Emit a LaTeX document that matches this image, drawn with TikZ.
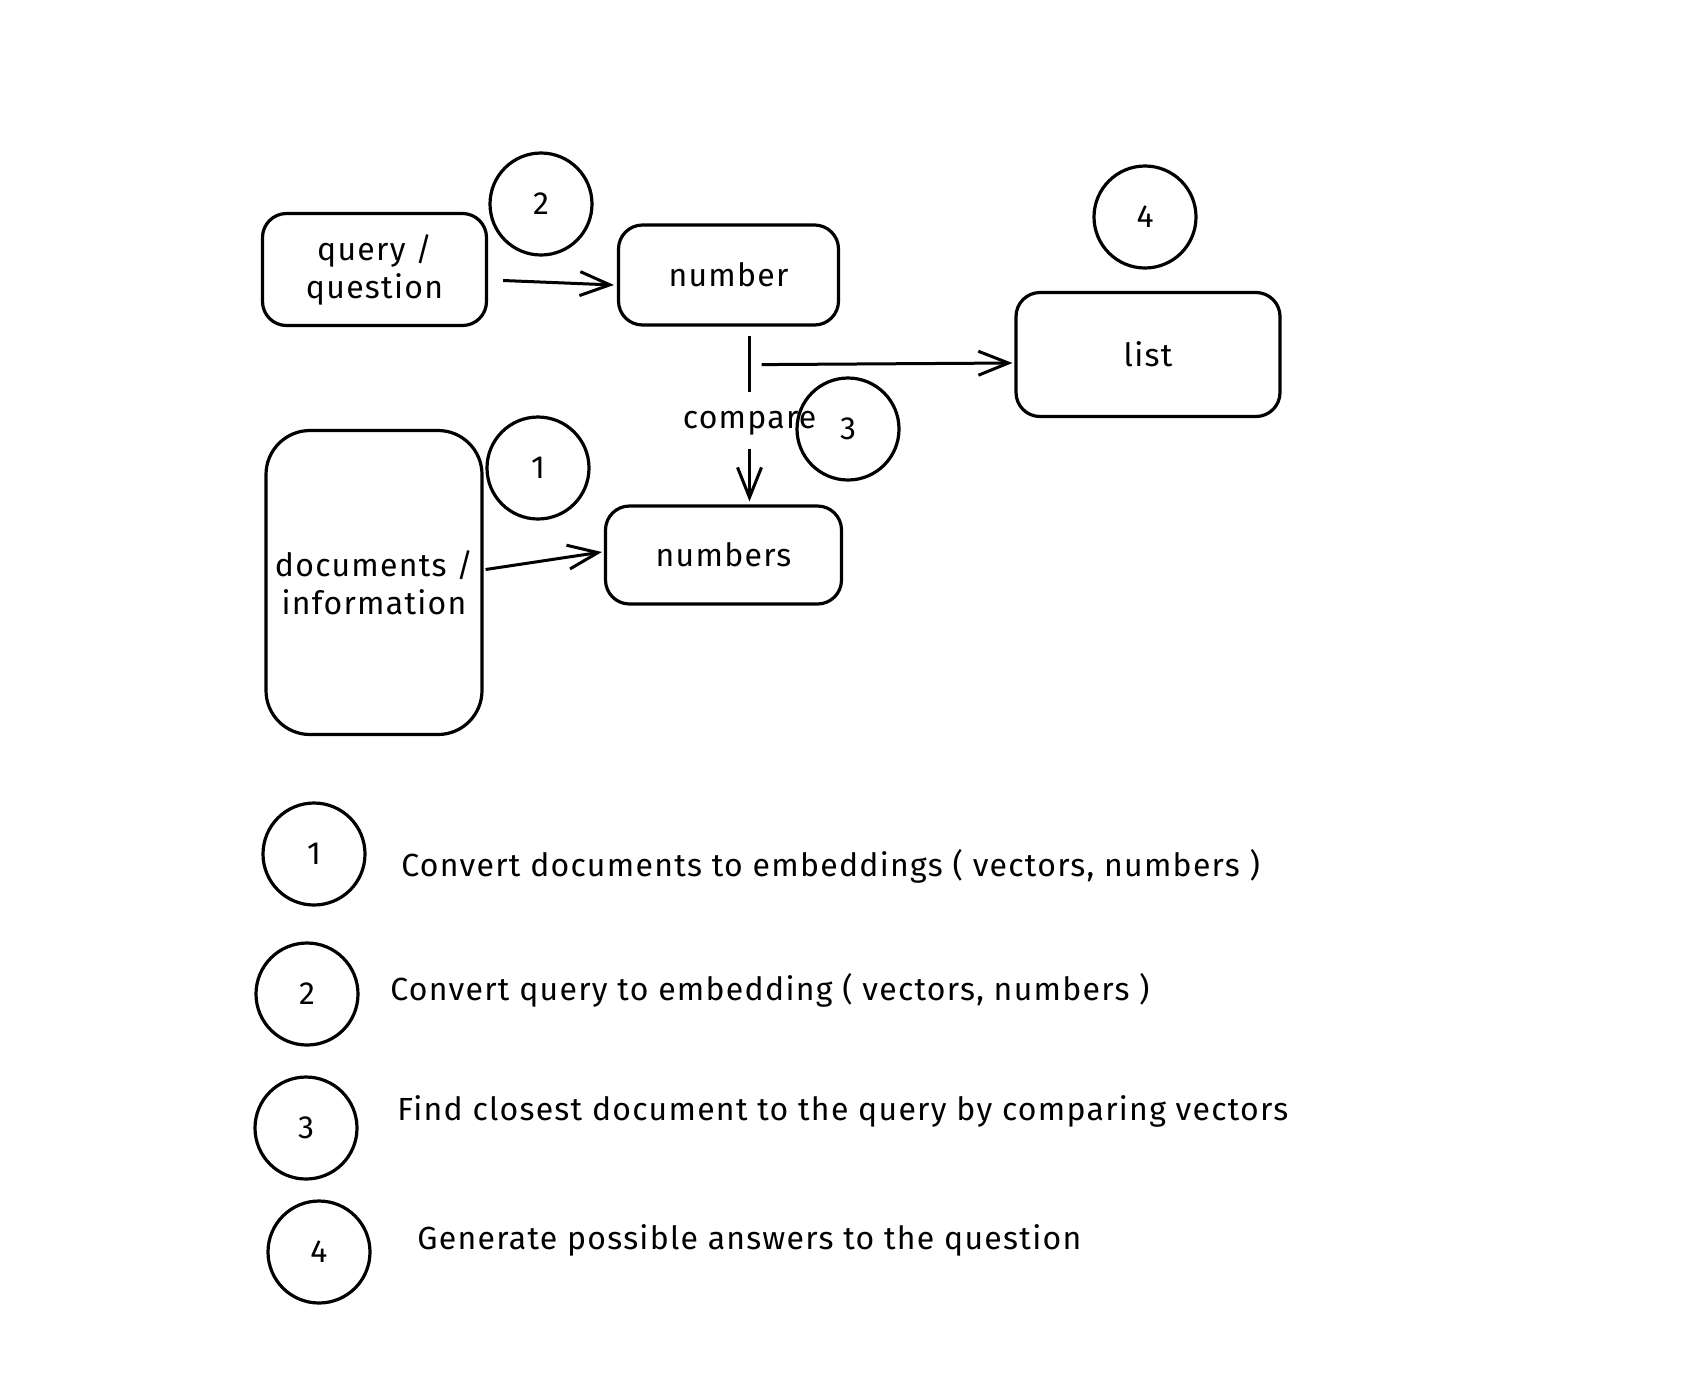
\documentclass[tikz,border=0pt]{standalone}
\usepackage{fontspec}
\setmainfont[LetterSpace=4]{Fira Sans}
\usetikzlibrary{arrows.meta, positioning, calc}

\tikzset{
	box/.style={draw, line width=1.6pt, rounded corners=12pt, align=center, inner sep=2pt},
	badge/.style={draw, circle, line width=1.6pt, minimum size=51pt, inner sep=0pt},
	arr/.style={line width=1.5pt, -{Straight Barb[length=15pt, width=12pt]}},
	legend/.style={anchor=west, inner sep=0pt}
}

\begin{document}
\begin{tikzpicture}[x=0.5pt, y=-0.5pt, font=\fontsize{16}{19}\selectfont]
		\fill[white] (0,0) rectangle (1706,1398);
		\useasboundingbox (0,0) rectangle (1706,1398);

		% diagram
		\node[box, minimum width=112pt, minimum height=56pt] (query) at (374.5,269.5) {query /\\question};
		\node[box, minimum width=110pt, minimum height=50pt] (number) at (728.5,275) {number};
		\node[box, minimum width=132pt, minimum height=62pt] (list) at (1148,354.5) {list};
		\node[box, minimum width=108pt, minimum height=152pt, rounded corners=22pt] (docs) at (374,582.5) {documents /\\information};
		\node[box, minimum width=118pt, minimum height=49pt] (numbers) at (723.5,555) {numbers};

		\draw[arr] ($(query.east)+(15,11)$) -- ($(number.west)+(-3,10)$);
		\draw[arr] ($(docs.east)+(2,-13)$) -- ($(numbers.west)+(-2,-3)$);
		\draw[arr] ($(number.south)+(21,9)$) -- node[fill=white, inner xsep=0pt, text height=15pt, text depth=7pt, yshift=-1pt] (cmp) {compare} ($(numbers.north)+(26,-3)$);
		\draw[arr] ($(number.south)+(33,38)$) -- ($(list.west)+(-2,8.5)$);

		\node[badge] (b2) at (541,204) {2};
		\node[badge] (b4) at (1145,217) {4};
		\node[badge] (b3) at (848,429) {3};
		\node[badge] (b1) at (538,468) {1};

		% legend
		\node[badge] (l1) at (314,854) {1};
		\node[badge] (l2) at (307,994) {2};
		\node[badge] (l3) at (306,1128) {3};
		\node[badge] (l4) at (319,1252) {4};
		\node[legend] (t1) at (401,866) {Convert documents to embeddings ( vectors, numbers )};
		\node[legend] (t2) at (390,990) {Convert query to embedding ( vectors, numbers )};
		\node[legend] (t3) at (397,1111) {Find closest document to the query by comparing vectors};
		\node[legend] (t4) at (417,1240) {Generate possible answers to the question};
	\end{tikzpicture}
\end{document}
